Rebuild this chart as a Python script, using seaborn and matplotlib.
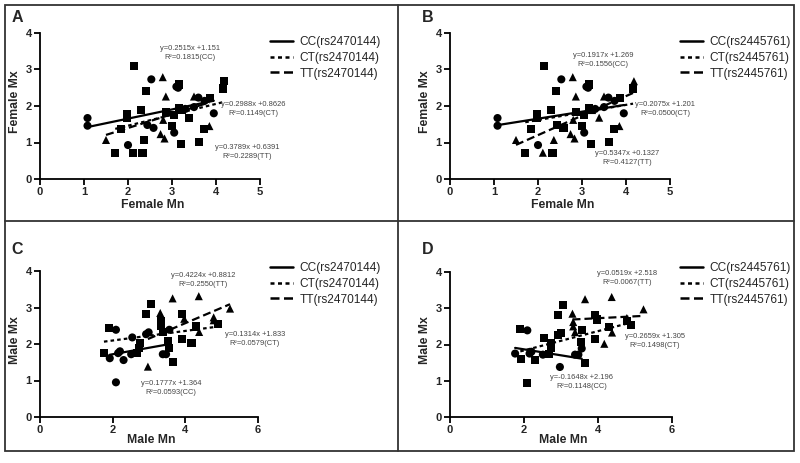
import numpy as np
import pandas as pd
import matplotlib
matplotlib.use("Agg")
import matplotlib.pyplot as plt
import seaborn as sns
from matplotlib.lines import Line2D
from matplotlib.patches import Rectangle

# --- datos ---
# mujeres: Mn, Mx y genotipo para cada SNP
fem_mn = [1.08, 1.08, 1.50, 1.71, 1.85, 1.98, 1.98, 2.00, 2.11, 2.14, 2.30, 2.33,
          2.36, 2.41, 2.44, 2.53, 2.58, 2.74, 2.79, 2.80, 2.83, 2.86, 2.86, 3.01,
          3.04, 3.05, 3.10, 3.14, 3.15, 3.15, 3.20, 3.23, 3.30, 3.39, 3.50, 3.50,
          3.60, 3.62, 3.72, 3.74, 3.85, 3.87, 3.95, 4.16, 4.18]
fem_mx = [1.67, 1.46, 1.07, 0.72, 1.38, 1.78, 1.67, 0.93, 0.72, 3.10, 1.90, 0.72,
          1.07, 2.41, 1.48, 2.73, 1.40, 1.23, 2.79, 1.62, 1.11, 2.26, 1.83, 1.45,
          1.75, 1.27, 2.53, 2.50, 2.59, 1.94, 0.96, 1.89, 1.92, 1.68, 2.26, 1.97,
          2.23, 1.02, 1.38, 2.14, 1.45, 2.23, 1.80, 2.48, 2.68]
fem_rs2470144 = ["CC", "CC", "TT", "CT", "CT", "CT", "CT", "CC", "CT", "CT", "CT", "CT",
                 "CT", "CT", "CC", "CC", "CC", "TT", "TT", "TT", "TT", "TT", "CT", "CT",
                 "CT", "CC", "CC", "CC", "CT", "CT", "CT", "CT", "CC", "CT", "TT", "CC",
                 "CC", "CT", "CT", "CC", "TT", "CT", "CC", "CT", "CT"]
fem_rs2445761 = ["CC", "CC", "TT", "CT", "CT", "CT", "CT", "CC", "TT", "CT", "CT", "CT",
                 "TT", "CT", "CT", "CC", "CT", "TT", "TT", "TT", "TT", "TT", "CT", "CT",
                 "CT", "CC", "CC", "CC", "CT", "CT", "CT", "TT", "CC", "TT", "TT", "CC",
                 "CC", "CT", "CT", "CC", "TT", "CT", "CC", "CT", "TT"]

# hombres
male_mn = [1.76, 1.90, 1.92, 2.09, 2.09, 2.15, 2.20, 2.30, 2.51, 2.54, 2.68, 2.74,
           2.72, 2.92, 2.99, 2.92, 2.97, 3.06, 3.31, 3.33, 3.33, 3.38, 3.38, 3.47,
           3.53, 3.56, 3.56, 3.65, 3.65, 3.91, 3.91, 3.97, 4.17, 4.29, 4.37, 4.38,
           4.78, 4.78, 4.90, 5.23]
male_mx = [1.75, 2.44, 1.61, 2.39, 0.95, 1.75, 1.80, 1.56, 1.72, 2.18, 1.75, 2.03,
           1.90, 2.27, 2.32, 2.82, 1.38, 3.10, 2.85, 2.62, 2.50, 2.34, 1.72, 1.72,
           2.07, 2.39, 1.89, 1.50, 3.25, 2.82, 2.14, 2.69, 2.02, 2.48, 3.31, 2.33,
           2.73, 2.65, 2.55, 2.97]
male_rs2470144 = ["CT", "CT", "CC", "CC", "CC", "CC", "CC", "CC", "CC", "CC", "CT", "CT",
                  "CT", "CC", "CC", "CT", "TT", "CT", "TT", "CT", "CT", "CT", "CC", "CC",
                  "CT", "CC", "CT", "CT", "TT", "CT", "CT", "TT", "CT", "CT", "TT", "TT",
                  "TT", "TT", "CT", "TT"]
male_rs2445761 = ["CC", "CT", "CT", "CC", "CT", "CC", "CC", "CT", "CC", "CT", "CT", "CT",
                  "CT", "CT", "CT", "CT", "CC", "CT", "TT", "TT", "TT", "TT", "CC", "CC",
                  "CT", "CT", "CC", "CT", "TT", "CT", "CT", "CT", "TT", "CT", "TT", "TT",
                  "TT", "CT", "CT", "TT"]

genotipos = ["CC", "CT", "TT"]

# rectas de regresion (pendiente, intercepto, R2) por panel, en orden CC, CT, TT
pend_A = [0.2515, 0.2988, 0.3789]
inter_A = [1.151, 0.8626, 0.6391]
r2_A = [0.1815, 0.1149, 0.2289]
pend_B = [0.1917, 0.2075, 0.5347]
inter_B = [1.269, 1.201, 0.1327]
r2_B = [0.1556, 0.0500, 0.4127]
pend_C = [0.1777, 0.1314, 0.4224]
inter_C = [1.364, 1.833, 0.8812]
r2_C = [0.0593, 0.0579, 0.2550]
pend_D = [-0.1648, 0.2659, 0.0519]
inter_D = [2.196, 1.305, 2.518]
r2_D = [0.1148, 0.1498, 0.0067]

W, H = 800, 463
FUENTE = "Liberation Sans"
MARCADORES = {"CC": "o", "CT": "s", "TT": "^"}
ESTILOS = {"CC": "-", "CT": (0, (1.6, 1.4)), "TT": (0, (3.6, 1.8))}

sns.set_style("white")
plt.rcParams["font.family"] = [FUENTE, "DejaVu Sans"]


def rect(x0, y_top, ancho, alto):
    """Convierte una caja en pixeles (origen arriba) a coordenadas de figura."""
    return [x0 / W, 1 - (y_top + alto) / H, ancho / W, alto / H]


def fpos(x, y):
    return x / W, 1 - y / H


def panel(ax, mn, mx, geno, pend, inter, xmax, xlabel, ylabel, xlab_y):
    df = pd.DataFrame({"mn": mn, "mx": mx, "g": geno})
    sns.scatterplot(data=df, x="mn", y="mx", style="g", markers=MARCADORES,
                    style_order=genotipos, color="black", s=34, linewidth=0,
                    legend=False, ax=ax, clip_on=False, zorder=3)
    for g, m, b in zip(genotipos, pend, inter):
        sub = df[df["g"] == g]
        xs = np.array([sub["mn"].min(), sub["mn"].max()])
        ax.plot(xs, m * xs + b, color="black", lw=1.6, ls=ESTILOS[g], zorder=4)
    ax.set_xlim(0, xmax)
    ax.set_ylim(0, 4)
    paso = 1 if xmax == 5 else 2
    ax.set_xticks(np.arange(0, xmax + 1, paso))
    ax.set_yticks(np.arange(0, 5, 1))
    sns.despine(ax=ax)
    for s in ["left", "bottom"]:
        ax.spines[s].set_linewidth(1.3)
        ax.spines[s].set_color("black")
    ax.tick_params(direction="out", length=4, width=1.3, color="black",
                   labelsize=8, pad=2, left=True, bottom=True)
    for t in ax.get_xticklabels() + ax.get_yticklabels():
        t.set_fontweight("bold")
    ax.set_xlabel(xlabel, fontsize=8.8, fontweight="bold")
    ax.set_ylabel(ylabel, fontsize=8.8, fontweight="bold")
    ax.xaxis.set_label_coords(0.51, xlab_y)
    ax.yaxis.set_label_coords(-0.085, 0.53)
    ax.patch.set_alpha(0)


def leyenda(ax, snp, x, y):
    handles = [Line2D([], [], color="black", lw=1.8, ls=ESTILOS[g]) for g in genotipos]
    labels = [f"{g}({snp})" for g in genotipos]
    ax.legend(handles, labels, loc="upper left", bbox_to_anchor=fpos(x, y),
              bbox_transform=ax.figure.transFigure, frameon=False, fontsize=8.6,
              handlelength=1.9, handletextpad=0.6, labelspacing=0.32, borderpad=0,
              borderaxespad=0)


def anotar(fig, m, b, r2, g, x, y):
    signo = "+" if b >= 0 else "-"
    texto = f"y={m:.4f}x {signo}{abs(b):.4g}\nR²={r2:.4f}({g})"
    fig.text(*fpos(x, y), texto, ha="center", va="top", fontsize=5.4,
             color="#444444", linespacing=1.45)


fig = plt.figure(figsize=(W / 100, H / 100), dpi=100)

axA = fig.add_axes(rect(40, 33, 220, 146))
axB = fig.add_axes(rect(450, 33, 220, 146))
axC = fig.add_axes(rect(40, 271, 218, 146))
axD = fig.add_axes(rect(450, 272, 222, 145))

panel(axA, fem_mn, fem_mx, fem_rs2470144, pend_A, inter_A, 5, "Female Mn", "Female Mx", -0.14)
panel(axB, fem_mn, fem_mx, fem_rs2445761, pend_B, inter_B, 5, "Female Mn", "Female Mx", -0.14)
panel(axC, male_mn, male_mx, male_rs2470144, pend_C, inter_C, 6, "Male Mn", "Male Mx", -0.115)
panel(axD, male_mn, male_mx, male_rs2445761, pend_D, inter_D, 6, "Male Mn", "Male Mx", -0.115)

leyenda(axA, "rs2470144", 270, 36)
leyenda(axB, "rs2445761", 680, 36)
leyenda(axC, "rs2470144", 270, 262)
leyenda(axD, "rs2445761", 680, 262)

# posiciones de las ecuaciones (pixeles) en orden CC, CT, TT
pos_A = [(190, 45), (253, 101), (247, 144)]
pos_B = [(603, 52), (665, 101), (627, 150)]
pos_C = [(171, 380), (255, 331), (203, 272)]
pos_D = [(582, 374), (655, 333), (627, 270)]
for pend, inter, r2, pos in [(pend_A, inter_A, r2_A, pos_A), (pend_B, inter_B, r2_B, pos_B),
                             (pend_C, inter_C, r2_C, pos_C), (pend_D, inter_D, r2_D, pos_D)]:
    for g, m, b, r, p in zip(genotipos, pend, inter, r2, pos):
        anotar(fig, m, b, r, g, *p)

# letras de panel
for letra, (x, y) in zip("ABCD", [(17, 18), (428, 18), (17, 250), (428, 250)]):
    fig.text(*fpos(x, y), letra, fontsize=11.5, fontweight="bold", ha="center", va="center")

# marco y divisiones entre paneles
borde = "#333333"
x0, y0, x1, y1 = 5, 5, 794, 451
fig.add_artist(Rectangle(fpos(x0, y1), (x1 - x0) / W, (y1 - y0) / H, fill=False,
                         edgecolor=borde, lw=1.3, transform=fig.transFigure))
fig.add_artist(Line2D([398 / W, 398 / W], [1 - y0 / H, 1 - y1 / H], color=borde, lw=1.3,
                      transform=fig.transFigure))
fig.add_artist(Line2D([x0 / W, x1 / W], [1 - 221 / H, 1 - 221 / H], color=borde, lw=1.3,
                      transform=fig.transFigure))

fig.savefig("out.png", dpi=100)
